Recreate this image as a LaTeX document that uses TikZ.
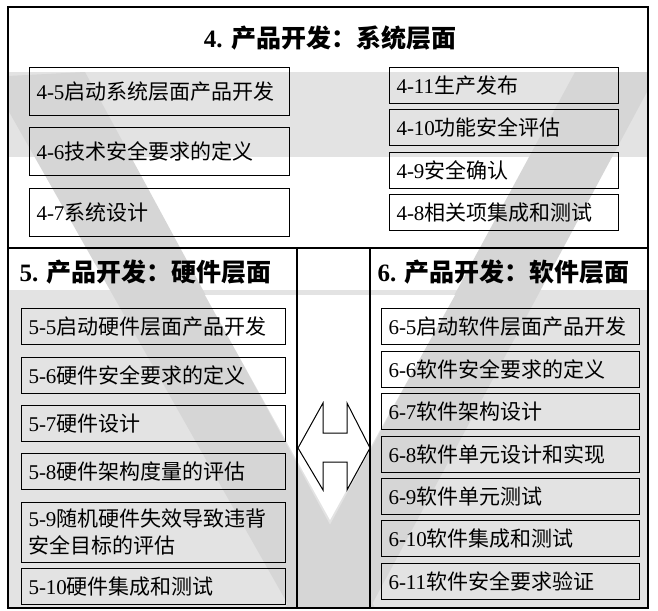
\documentclass[tikz,border=0pt]{standalone}
\usepackage{fontspec}
\setmainfont{Liberation Serif}
\newfontfamily\cjk{Noto Sans CJK SC}
\newcommand{\lb}[2]{#1{\cjk #2}}
\newcommand{\bx}[6]{\node[boxst,minimum width=#4pt,minimum height=#5pt,text width=#4pt-14pt,anchor=north west] (#1) at (#2,#3) {#6};}
\begin{document}
\begin{tikzpicture}[x=1pt,y=-1pt,
  boxst/.style={draw,line width=1pt,inner xsep=7pt,inner ysep=0pt,align=left,font=\fontsize{21}{27}\selectfont},
  ttl/.style={font=\fontsize{25}{30}\selectfont\bfseries,anchor=west}]
\useasboundingbox (0,0) rectangle (658,610);
\fill[white] (0,0) rectangle (658,610);
% background
\fill[gray!22] (8,72) rectangle (648,157);
\fill[gray!22] (8,290) rectangle (648,608);
\fill[gray!32] (8,76) -- (85,72) -- (375,608) -- (290,608) -- (8,110) -- cycle;
\fill[gray!32] (575,72) -- (648,72) -- (648,90) -- (370,608) -- (285,608) -- cycle;
\fill[white] (205,295) -- (455,295) -- (330,520) -- cycle;
% frames
\draw[line width=1.6pt] (8,7) rectangle (648,608);
\draw[line width=1.6pt] (8,248) -- (648,248);
\draw[line width=1.6pt] (297,248) -- (297,608);
\draw[line width=1.6pt] (370,248) -- (370,608);
\node[font=\fontsize{25}{30}\selectfont\bfseries] (t4) at (330,38) {4. {\cjk 产品开发：系统层面}};
\node[ttl] (t5) at (16,272) {5. {\cjk 产品开发：硬件层面}};
\node[ttl] (t6) at (374,272) {6. {\cjk 产品开发：软件层面}};
\bx{b45}{29}{67}{260}{48}{\lb{4-5}{启动系统层面产品开发}}
\bx{b46}{29}{127}{260}{48}{\lb{4-6}{技术安全要求的定义}}
\bx{b47}{29}{188}{260}{48}{\lb{4-7}{系统设计}}
\bx{b411}{389}{67}{229}{36}{\lb{4-11}{生产发布}}
\bx{b410}{389}{109}{229}{36}{\lb{4-10}{功能安全评估}}
\bx{b49}{389}{152}{229}{36}{\lb{4-9}{安全确认}}
\bx{b48}{389}{194}{229}{36}{\lb{4-8}{相关项集成和测试}}
\bx{b55}{21}{308}{264}{36}{\lb{5-5}{启动硬件层面产品开发}}
\bx{b56}{21}{357}{264}{36}{\lb{5-6}{硬件安全要求的定义}}
\bx{b57}{21}{405}{264}{36}{\lb{5-7}{硬件设计}}
\bx{b58}{21}{453}{264}{36}{\lb{5-8}{硬件架构度量的评估}}
\bx{b59}{21}{502}{264}{60}{\lb{5-9}{随机硬件失效导致违背}\\{\cjk 安全目标的评估}}
\bx{b510}{21}{568}{264}{36}{\lb{5-10}{硬件集成和测试}}
\bx{b65}{381}{308}{258}{36}{\lb{6-5}{启动软件层面产品开发}}
\bx{b66}{381}{351}{258}{36}{\lb{6-6}{软件安全要求的定义}}
\bx{b67}{381}{393}{258}{36}{\lb{6-7}{软件架构设计}}
\bx{b68}{381}{436}{258}{36}{\lb{6-8}{软件单元设计和实现}}
\bx{b69}{381}{478}{258}{36}{\lb{6-9}{软件单元测试}}
\bx{b610}{381}{520}{258}{36}{\lb{6-10}{软件集成和测试}}
\bx{b611}{381}{563}{258}{36}{\lb{6-11}{软件安全要求验证}}
% double arrow
\draw[fill=white,line width=1pt] (298,448) -- (323,403) -- (323,433) -- (347,433) -- (347,403) -- (370,448) -- (347,490) -- (347,462) -- (323,462) -- (323,490) -- cycle;
\end{tikzpicture}
\end{document}
